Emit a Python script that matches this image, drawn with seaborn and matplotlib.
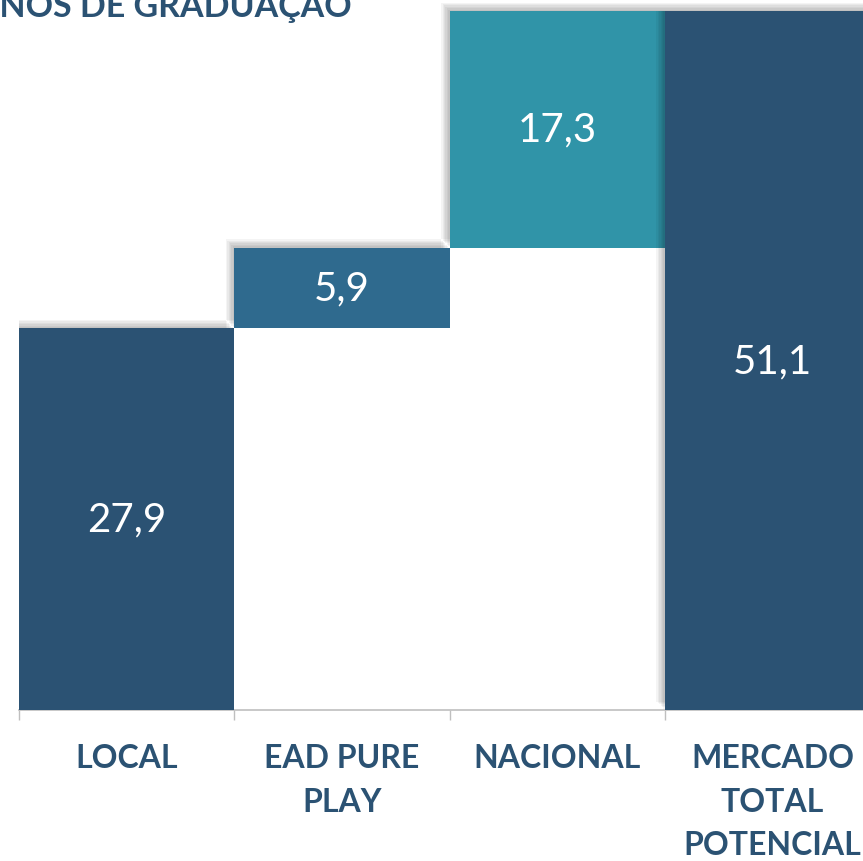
import matplotlib
matplotlib.use("Agg")
import matplotlib.pyplot as plt
import matplotlib.patheffects as pe
import pandas as pd
import seaborn as sns

# Data
categories = ["LOCAL", "EAD PURE\nPLAY", "NACIONAL", "MERCADO\nTOTAL\nPOTENCIAL"]
values = [27.9, 5.9, 17.3, 51.1]
bases = [0.0, 27.9, 33.8, 0.0]
value_labels = ["27,9", "5,9", "17,3", "51,1"]
colors = ["#2B5273", "#2F6A8E", "#3094A8", "#2B5273"]
title = "ALUNOS DE GRADUAÇÃO"

df = pd.DataFrame({"cat": categories, "value": values, "base": bases})

sns.set_theme(style="white")
plt.rcParams["font.family"] = ["Lato", "DejaVu Sans"]

fig = plt.figure(figsize=(8.63, 8.62), dpi=100)
ax = fig.add_axes([19 / 863, 151 / 862, 861 / 863, 711 / 862])

sns.barplot(df, x="cat", y="value", bottom=df["base"].to_numpy(), color=colors[0],
            saturation=1, width=1.0, edgecolor="none", linewidth=0, ax=ax, zorder=2)

# soft drop shadow up and to the left
shadow = [pe.SimplePatchShadow(offset=(-o, o), shadow_rgbFace="black", alpha=0.045)
          for o in (1, 2, 3, 4, 5, 6)]
for p, c in zip(ax.patches, colors):
    p.set_facecolor(c)
    p.set_path_effects(shadow + [pe.Normal()])

ax.set_xlim(-0.5, 3.5)
ax.set_ylim(0, 711 / 13.68)
ax.set(xlabel="", ylabel="")
sns.despine(ax=ax, left=True, top=True, right=True)
ax.spines["bottom"].set_color("#BFBFBF")
ax.spines["bottom"].set_linewidth(1.2)
ax.spines["bottom"].set_zorder(1)
ax.set_yticks([])

ax.set_xticks([-0.5, 0.5, 1.5, 2.5])
ax.set_xticklabels([])
ax.tick_params(axis="x", which="major", length=7, width=1, color="#BFBFBF", direction="out", bottom=True)
ax.set_xticks(range(len(categories)), minor=True)
ax.set_xticklabels(categories, minor=True, fontsize=23, fontweight="bold", color="#2B5273",
                   linespacing=1.6, va="top")
ax.tick_params(axis="x", which="minor", length=0, pad=24)

for i, (b, v, lab) in enumerate(zip(bases, values, value_labels)):
    ax.text(i, b + v / 2, lab, ha="center", va="center", color="white",
            fontsize=29, fontweight="normal")

fig.text(352 / 863, 1 - 17 / 862, title, ha="right", va="baseline",
         fontsize=24.5, fontweight="bold", color="#2B5273")

fig.savefig("out.png", dpi=100)
